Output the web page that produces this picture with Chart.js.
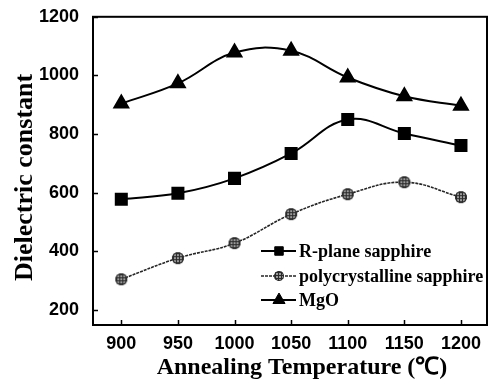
<!DOCTYPE html>
<html>
<head>
<meta charset="utf-8">
<script src="https://cdn.jsdelivr.net/npm/chart.js@4.4.1/dist/chart.umd.min.js"></script>
<style>
  html, body { margin: 0; padding: 0; background: #fff; }
  #wrap { width: 497px; height: 387px; }
</style>
</head>
<body>
<div id="wrap"><canvas id="chart"></canvas></div>
<script>
// data
const temps = [900, 950, 1000, 1050, 1100, 1150, 1200];
const rPlane = [578, 598, 649, 734, 850, 802, 761];
const polySapphire = [305, 377, 428, 527, 595, 636, 585];
const mgo = [904, 973, 1078, 1084, 993, 929, 897];
const xTicks = [900, 950, 1000, 1050, 1100, 1150, 1200];
const yTicks = [200, 400, 600, 800, 1000, 1200];

const serif = '"Liberation Serif", "Times New Roman", serif';
const sans = '"Liberation Sans", Arial, sans-serif';

// gray cross-hatched dot used for the polycrystalline series
function hatchedDot(r) {
  const c = document.createElement('canvas');
  const s = r * 2 + 2;
  c.width = c.height = s;
  const g = c.getContext('2d');
  g.beginPath();
  g.arc(s / 2, s / 2, r, 0, Math.PI * 2);
  g.fillStyle = '#9a9a9a';
  g.fill();
  g.save();
  g.clip();
  g.strokeStyle = '#2a2a2a';
  g.lineWidth = 1;
  for (let k = 2; k < s; k += 3) {
    g.beginPath();
    g.moveTo(k + 0.5, 0); g.lineTo(k + 0.5, s);
    g.moveTo(0, k + 0.5); g.lineTo(s, k + 0.5);
    g.stroke();
  }
  g.restore();
  g.beginPath();
  g.arc(s / 2, s / 2, r - 0.5, 0, Math.PI * 2);
  g.strokeStyle = '#2a2a2a';
  g.stroke();
  return c;
}

const pts = ys => temps.map((t, i) => ({ x: t, y: ys[i] }));

// box round the plot plus inward ticks
const framePlugin = {
  id: 'frame',
  afterDatasetsDraw(chart) {
    const { ctx, chartArea: a, scales } = chart;
    ctx.save();
    ctx.strokeStyle = '#000';
    ctx.lineWidth = 2;
    ctx.strokeRect(a.left, a.top, a.right - a.left, a.bottom - a.top);
    ctx.lineWidth = 1.5;
    ctx.beginPath();
    scales.x.ticks.forEach(t => {
      const px = Math.round(scales.x.getPixelForValue(t.value)) + 0.5;
      ctx.moveTo(px, a.bottom); ctx.lineTo(px, a.bottom - 5);
    });
    scales.y.ticks.forEach(t => {
      const py = Math.round(scales.y.getPixelForValue(t.value)) + 0.5;
      ctx.moveTo(a.left, py); ctx.lineTo(a.left + 5, py);
    });
    ctx.stroke();
    ctx.restore();
  }
};

// legend drawn inside the plot, lower right
const legendPlugin = {
  id: 'insideLegend',
  afterDatasetsDraw(chart) {
    const ctx = chart.ctx;
    const x0 = 261, x1 = 296, mx = 279, tx = 299;
    const rows = [251, 276, 300];
    const legendRadius = [6, 5, 7];
    ctx.save();
    chart.data.datasets.forEach((ds, i) => {
      const y = rows[i];
      ctx.strokeStyle = ds.borderColor;
      ctx.lineWidth = ds.borderWidth;
      ctx.setLineDash(ds.borderDash || []);
      ctx.beginPath();
      ctx.moveTo(x0, y); ctx.lineTo(x1, y);
      ctx.stroke();
      ctx.setLineDash([]);
      ctx.fillStyle = ds.pointBackgroundColor;
      ctx.strokeStyle = ds.pointBorderColor;
      ctx.lineWidth = 1;
      const style = ds.legendStyle || ds.pointStyle;
      Chart.helpers.drawPoint(ctx, { pointStyle: style, radius: legendRadius[i], rotation: 0, borderWidth: 1 }, mx, y);
      ctx.fillStyle = '#000';
      ctx.font = 'bold 18px ' + serif;
      ctx.textBaseline = 'middle';
      ctx.fillText(ds.label, tx, y + 1);
    });
    ctx.restore();
  }
};

new Chart(document.getElementById('chart'), {
  type: 'line',
  data: {
    datasets: [
      {
        label: 'R-plane sapphire',
        data: pts(rPlane),
        borderColor: '#000',
        borderWidth: 2,
        pointStyle: 'rect',
        pointRadius: 7.8,
        pointBackgroundColor: '#000',
        pointBorderColor: '#000',
        tension: 0.4
      },
      {
        label: 'polycrystalline sapphire',
        data: pts(polySapphire),
        borderColor: '#262626',
        borderWidth: 1.6,
        borderDash: [3, 1],
        pointStyle: hatchedDot(6),
        legendStyle: hatchedDot(5),
        pointRadius: 6,
        pointBackgroundColor: '#999',
        pointBorderColor: '#333',
        tension: 0.4
      },
      {
        label: 'MgO',
        data: pts(mgo),
        borderColor: '#000',
        borderWidth: 2,
        pointStyle: 'triangle',
        pointRadius: 8,
        pointBackgroundColor: '#000',
        pointBorderColor: '#000',
        tension: 0.4
      }
    ]
  },
  options: {
    responsive: true,
    maintainAspectRatio: false,
    animation: false,
    layout: { padding: { top: 16, right: 1, left: 0, bottom: 0 } },
    plugins: {
      legend: { display: false },
      tooltip: { enabled: false }
    },
    scales: {
      x: {
        type: 'linear',
        min: 875,
        max: 1223,
        afterBuildTicks: s => { s.ticks = xTicks.map(v => ({ value: v })); },
        afterFit: s => { s.height = 62; },
        grid: { display: false },
        border: { display: false },
        ticks: {
          color: '#000',
          padding: 0,
          callback: v => String(v),
          font: { family: sans, size: 18, weight: 'bold' }
        },
        title: {
          display: true,
          text: '\u2003Annealing Temperature (℃)',
          color: '#000',
          padding: { top: 0, bottom: 5 },
          font: { family: serif, size: 24, weight: 'bold' }
        }
      },
      y: {
        min: 149,
        max: 1200,
        afterBuildTicks: s => { s.ticks = yTicks.map(v => ({ value: v })); },
        afterFit: s => { s.width = 93; },
        grid: { display: false },
        border: { display: false },
        ticks: {
          color: '#000',
          padding: 6,
          callback: v => String(v),
          font: { family: sans, size: 18, weight: 'bold' }
        },
        title: {
          display: true,
          text: 'Dielectric constant\u2002',
          color: '#000',
          padding: { top: 10, bottom: 0 },
          font: { family: serif, size: 26, weight: 'bold' }
        }
      }
    }
  },
  plugins: [framePlugin, legendPlugin]
});
</script>
</body>
</html>
